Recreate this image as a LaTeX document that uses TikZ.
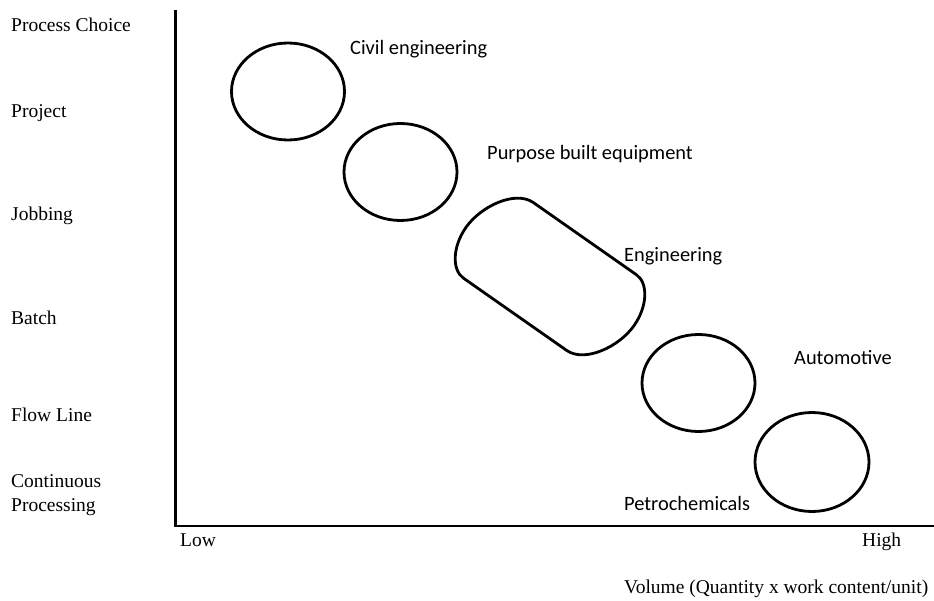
\documentclass[tikz,border=0pt]{standalone}
\usepackage{fontspec}
\usetikzlibrary{shapes.geometric}
\setmainfont{Liberation Serif}
\newfontfamily\labfont{Carlito}
\begin{document}
\begin{tikzpicture}[x=1pt,y=-1pt,
  axislab/.style={anchor=base west,inner sep=0pt,font=\fontsize{19.5}{22}\selectfont},
  catlab/.style={anchor=base west,inner sep=0pt,font=\labfont\fontsize{20.4}{24}\selectfont},
  blob/.style={draw,line width=2.8pt,ellipse,inner sep=0pt,minimum width=113pt,minimum height=97pt},
  axisline/.style={line width=2.4pt}]
\useasboundingbox (0,0) rectangle (934,601);
% axes
\coordinate (top) at (175.5,10);
\coordinate (origin) at (175.5,526);
\coordinate (right) at (934,526);
\draw[axisline] (top) -- (origin) -- (right);
% y labels
\node[axislab] (pc) at (11,31.5) {Process Choice};
\node[axislab] (proj) at (11,118) {Project};
\node[axislab] (job) at (11,221) {Jobbing};
\node[axislab] (batch) at (11,325) {Batch};
\node[axislab] (flow) at (11,421) {Flow Line};
\node[axislab] (cont) at (11,487) {Continuous};
\node[axislab] (procg) at (11,511) {Processing};
% x labels
\node[axislab] (low) at (180,546.5) {Low};
\node[axislab] (high) at (862,546.5) {High};
\node[axislab] (vol) at (624,593.5) {Volume (Quantity x work content/unit)};
% shapes
\node[blob] (e1) at (288,91.5) {};
\node[blob] (e2) at (400.5,172) {};
\begin{scope}[shift={(550,276.5)},rotate=-35]
\draw[line width=2.8pt,line join=round] (-56,-51) -- (70,-51)
  .. controls (84,-51) and (97,-32) .. (97,-8)
  .. controls (97,18) and (78,51) .. (56,51)
  -- (-70,51)
  .. controls (-84,51) and (-97,32) .. (-97,8)
  .. controls (-97,-18) and (-78,-51) .. (-56,-51) -- cycle;
\end{scope}
\node[blob] (e4) at (698.5,383) {};
\node[blob,minimum width=114pt,minimum height=99pt] (e5) at (812,462) {};
% category labels
\node[catlab] (civ) at (350,54.5) {Civil engineering};
\node[catlab] (pbe) at (487,159.5) {Purpose built equipment};
\node[catlab] (engl) at (624,262) {Engineering};
\node[catlab] (auto) at (794,364) {Automotive};
\node[catlab] (petro) at (624,510) {Petrochemicals};
\end{tikzpicture}
\end{document}
